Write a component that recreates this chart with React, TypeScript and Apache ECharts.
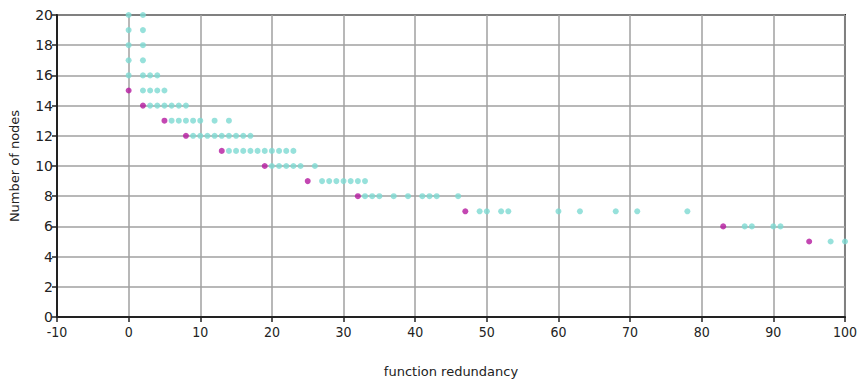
import React, { useEffect, useRef } from "react";
import * as echarts from "echarts";

// number of nodes for each row
const nodes = [20, 19, 18, 17, 16, 15, 14, 13, 12, 11, 10, 9, 8, 7, 6, 5];
// first (minimum-redundancy) point of each row, null when absent
const firstRedundancy: (number | null)[] = [null, null, null, null, null, 0, 2, 5, 8, 13, 19, 25, 32, 47, 83, 95];
// other redundancy values observed for each row
const otherRedundancy: number[][] = [
  [0, 2],
  [0, 2],
  [0, 2],
  [0, 2],
  [0, 2, 3, 4],
  [2, 3, 4, 5],
  [3, 4, 5, 6, 7, 8],
  [6, 7, 8, 9, 10, 12, 14],
  [9, 10, 11, 12, 13, 14, 15, 16, 17],
  [14, 15, 16, 17, 18, 19, 20, 21, 22, 23],
  [20, 21, 22, 23, 24, 26],
  [27, 28, 29, 30, 31, 32, 33],
  [33, 34, 35, 37, 39, 41, 42, 43, 46],
  [49, 50, 52, 53, 60, 63, 68, 71, 78],
  [86, 87, 90, 91],
  [98, 100],
];
const xTicks = { min: -10, max: 100, interval: 10 };
const yTicks = { min: 0, max: 20, interval: 2 };

export default function App() {
  const ref = useRef<HTMLDivElement>(null);
  useEffect(() => {
    if (!ref.current) return;
    const chart = echarts.init(ref.current, undefined, { renderer: "svg" });
    const magenta: number[][] = [];
    const cyan: number[][] = [];
    nodes.forEach((n, i) => {
      const f = firstRedundancy[i];
      if (f !== null) magenta.push([f, n]);
      otherRedundancy[i].forEach((x) => cyan.push([x, n]));
    });
    chart.setOption({
      animation: false,
      backgroundColor: "#ffffff",
      grid: {
        left: 55,
        right: 12,
        top: 15,
        bottom: 66,
        show: true,
        borderColor: "#222",
        borderWidth: 2,
      },
      xAxis: {
        type: "value",
        min: xTicks.min,
        max: xTicks.max,
        interval: xTicks.interval,
        name: "function redundancy",
        nameLocation: "middle",
        nameGap: 48,
        nameTextStyle: { fontFamily: "DejaVu Sans", fontSize: 13, color: "#222" },
        axisLine: { show: true, onZero: false, lineStyle: { color: "#222", width: 2 } },
        axisTick: { show: true, length: 5, lineStyle: { color: "#222", width: 1.5 } },
        axisLabel: {
          fontFamily: "DejaVu Sans Condensed",
          fontSize: 14,
          color: "#222",
          margin: 8,
        },
        splitLine: { show: true, lineStyle: { color: "#a0a0a0", width: 1.5 } },
      },
      yAxis: {
        type: "value",
        min: yTicks.min,
        max: yTicks.max,
        interval: yTicks.interval,
        name: "Number of nodes",
        nameLocation: "middle",
        nameGap: 36,
        nameTextStyle: { fontFamily: "DejaVu Sans", fontSize: 13, color: "#222" },
        axisLine: { show: true, onZero: false, lineStyle: { color: "#222", width: 2 } },
        axisTick: { show: true, length: 5, lineStyle: { color: "#222", width: 1.5 } },
        axisLabel: {
          fontFamily: "DejaVu Sans",
          fontSize: 14,
          color: "#222",
          margin: 4,
        },
        splitLine: { show: true, lineStyle: { color: "#a0a0a0", width: 1.5 } },
      },
      series: [
        {
          type: "scatter",
          data: cyan,
          symbol: "circle",
          symbolSize: 6,
          itemStyle: { color: "#7dd9d2" },
        },
        {
          type: "scatter",
          data: magenta,
          symbol: "circle",
          symbolSize: 6,
          itemStyle: { color: "#b4199f" },
        },
      ],
    });
    return () => chart.dispose();
  }, []);
  return (
    <div
      ref={ref}
      style={{ position: "absolute", left: 0, top: 0, width: 860, height: 383 }}
    />
  );
}
